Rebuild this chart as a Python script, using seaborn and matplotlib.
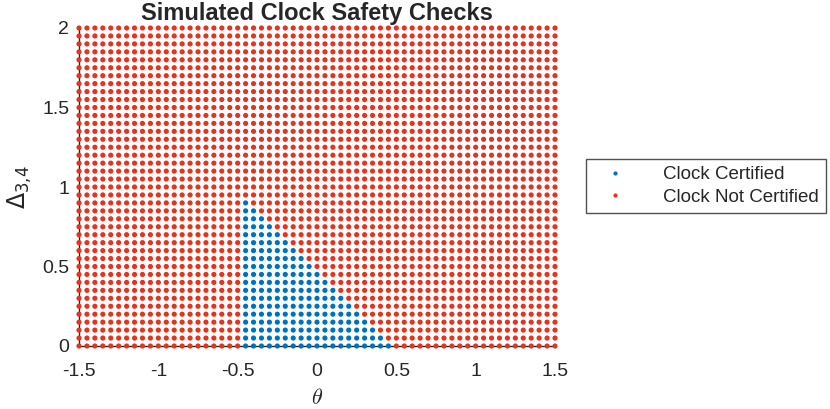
import numpy as np
import pandas as pd
import matplotlib
matplotlib.use("Agg")
from matplotlib import pyplot as plt
import seaborn as sns

# grid of simulated points
theta_grid = np.round(np.arange(-1.5, 1.5001, 0.05), 2)
delta_grid = np.round(np.arange(0.0, 2.0001, 0.05), 2)

# certified region: per theta column, highest certified delta
cert_theta = [-0.45, -0.40, -0.35, -0.30, -0.25, -0.20, -0.15, -0.10, -0.05, 0.00,
              0.05, 0.10, 0.15, 0.20, 0.25, 0.30, 0.35, 0.40, 0.45]
cert_max_delta = [0.90, 0.85, 0.80, 0.75, 0.70, 0.65, 0.60, 0.55, 0.50, 0.45,
                  0.40, 0.35, 0.30, 0.25, 0.20, 0.15, 0.10, 0.05, 0.00]

labels = ["Clock Certified", "Clock Not Certified"]
colors = ["#0072BD", "#E5331F"]

limits = dict(zip(cert_theta, cert_max_delta))
rows = []
for t in theta_grid:
    for d in delta_grid:
        ok = t in limits and d <= limits[t] + 1e-9
        rows.append((t, d, labels[0] if ok else labels[1]))
df = pd.DataFrame(rows, columns=["theta", "delta", "status"])

sns.set_style("white")
plt.rcParams["font.family"] = ["Liberation Sans", "DejaVu Sans"]

fig = plt.figure(figsize=(8.3, 4.09), dpi=100)
ax = fig.add_axes([79 / 830, 1 - 346 / 409, (555 - 79) / 830, (346 - 28) / 409])

sns.scatterplot(data=df, x="theta", y="delta", hue="status", hue_order=labels,
                palette=colors, s=14, linewidth=0, ax=ax, zorder=3, clip_on=False)

ax.set_xlim(-1.5, 1.5)
ax.set_ylim(0, 2)
ax.set_xticks([-1.5, -1, -0.5, 0, 0.5, 1, 1.5])
ax.set_xticklabels(["-1.5", "-1", "-0.5", "0", "0.5", "1", "1.5"])
ax.set_yticks([0, 0.5, 1, 1.5, 2])
ax.set_yticklabels(["0", "0.5", "1", "1.5", "2"])
ax.tick_params(direction="in", length=5, width=1, labelsize=14, color="#262626",
               labelcolor="#262626")
ax.tick_params(axis="x", pad=12)
ax.tick_params(axis="y", pad=7)
for side in ["top", "right"]:
    ax.spines[side].set_visible(False)
for side in ["left", "bottom"]:
    ax.spines[side].set_color("#262626")
    ax.spines[side].set_linewidth(1)

ax.set_xlabel(r"$\theta$", fontsize=16, labelpad=6)
ax.set_ylabel(r"$\Delta_{3{,}4}$", fontsize=17, labelpad=6)
ax.xaxis.label.set_math_fontfamily("cm")
ax.yaxis.label.set_math_fontfamily("dejavusans")

ax.set_title("Simulated Clock Safety Checks", fontsize=17, fontweight="bold",
             family=["Liberation Sans Narrow", "Liberation Sans"], pad=6)

leg = ax.legend(loc="center left", bbox_to_anchor=(586 / 830, 1 - 186 / 409),
                bbox_transform=fig.transFigure, fontsize=13.5, frameon=True,
                fancybox=False, edgecolor="#262626", markerscale=0.8,
                handletextpad=1.4, borderpad=0.4, labelspacing=0.3,
                handlelength=2.3, borderaxespad=0)
leg.get_frame().set_linewidth(1)

plt.savefig("out.png", dpi=100)
